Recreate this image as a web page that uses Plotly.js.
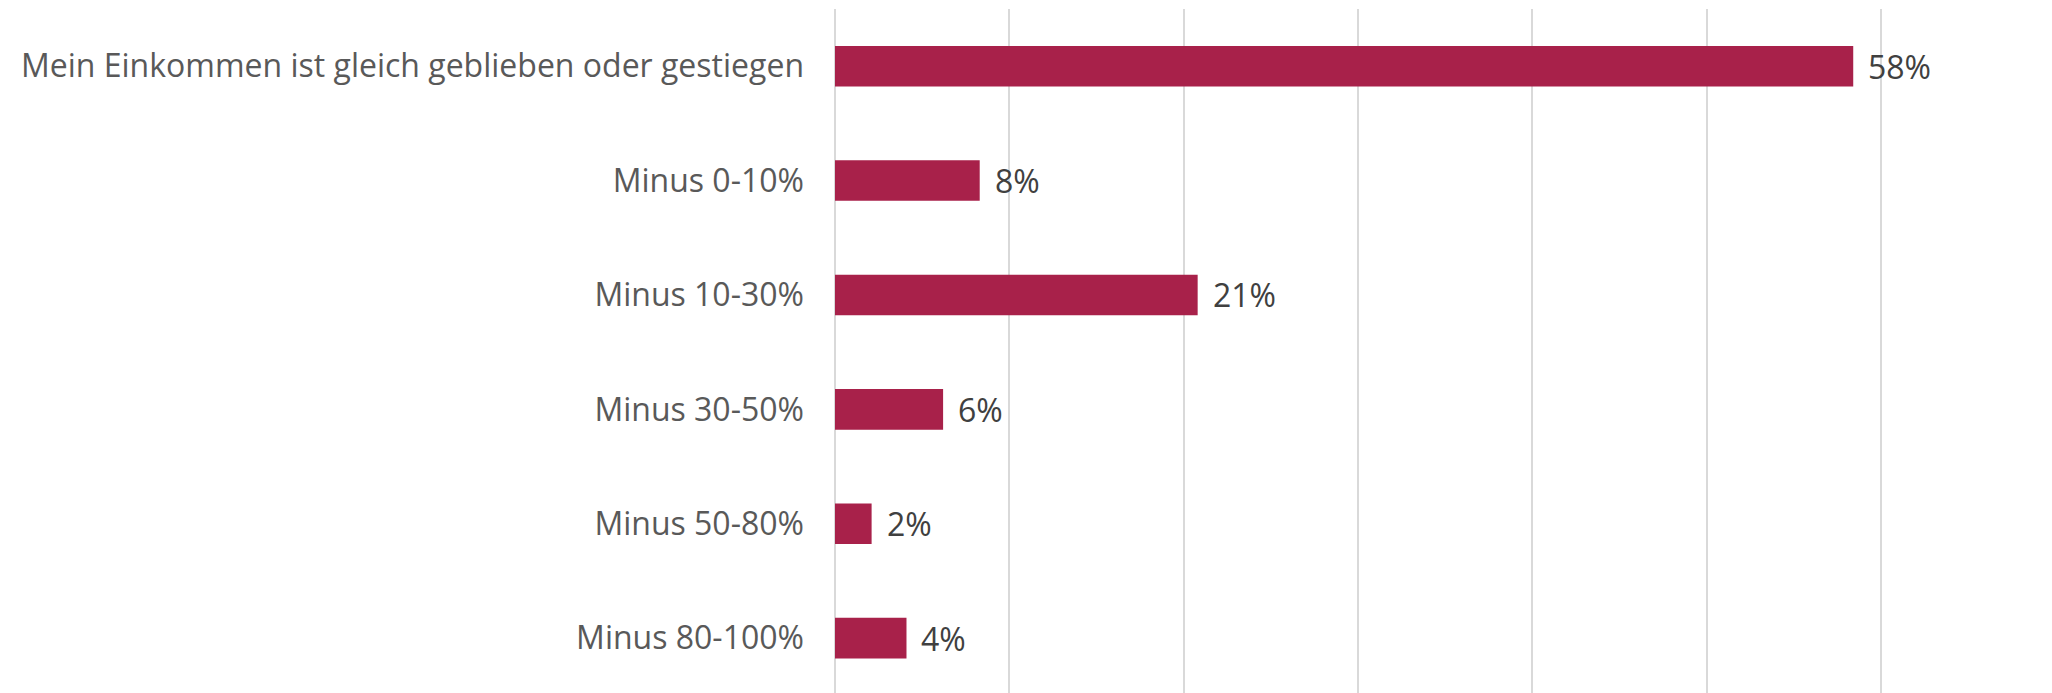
<!DOCTYPE html>
<html>
<head>
<meta charset="utf-8">
<script src="https://cdn.plot.ly/plotly-3.0.1.min.js"></script>
<style>html,body{margin:0;padding:0;background:#fff;}#chart{width:2052px;height:693px;}</style>
</head>
<body>
<div id="chart"></div>
<script>
const categories = [
  "Mein Einkommen ist gleich geblieben oder gestiegen",
  "Minus 0-10%",
  "Minus 10-30%",
  "Minus 30-50%",
  "Minus 50-80%",
  "Minus 80-100%"
];
const values = [58.4, 8.3, 20.8, 6.2, 2.1, 4.1];
const valueLabels = ["58%", "8%", "21%", "6%", "2%", "4%"];
const xTicks = [0, 10, 20, 30, 40, 50, 60, 70];

const trace = {
  type: "bar",
  orientation: "h",
  x: values,
  y: categories,
  width: 0.355,
  marker: {color: "#A8214A"},
  hoverinfo: "none"
};

const annotations = values.map((v, i) => ({
  x: v, y: categories[i], xref: "x", yref: "y",
  text: valueLabels[i], showarrow: false,
  xanchor: "left", yanchor: "middle", xshift: 13,
  font: {family: "Open Sans", size: 32, color: "#404040"}
}));

const layout = {
  width: 2052, height: 693,
  margin: {l: 835, r: 0, t: 9, b: 0},
  paper_bgcolor: "#ffffff", plot_bgcolor: "#ffffff",
  showlegend: false,
  xaxis: {
    range: [0, 69.8],
    tickvals: xTicks,
    showticklabels: false,
    showgrid: true, gridcolor: "#d9d9d9", gridwidth: 2,
    zeroline: true, zerolinecolor: "#d9d9d9", zerolinewidth: 2,
    showline: false, fixedrange: true
  },
  yaxis: {
    type: "category",
    range: [5.48, -0.5],
    showgrid: false, zeroline: false, showline: false,
    ticks: "", ticklabelstandoff: 30,
    tickfont: {family: "Open Sans", size: 32, color: "#595959"},
    fixedrange: true
  },
  annotations: annotations
};

Plotly.newPlot("chart", [trace], layout, {displayModeBar: false, staticPlot: true});
</script>
</body>
</html>
